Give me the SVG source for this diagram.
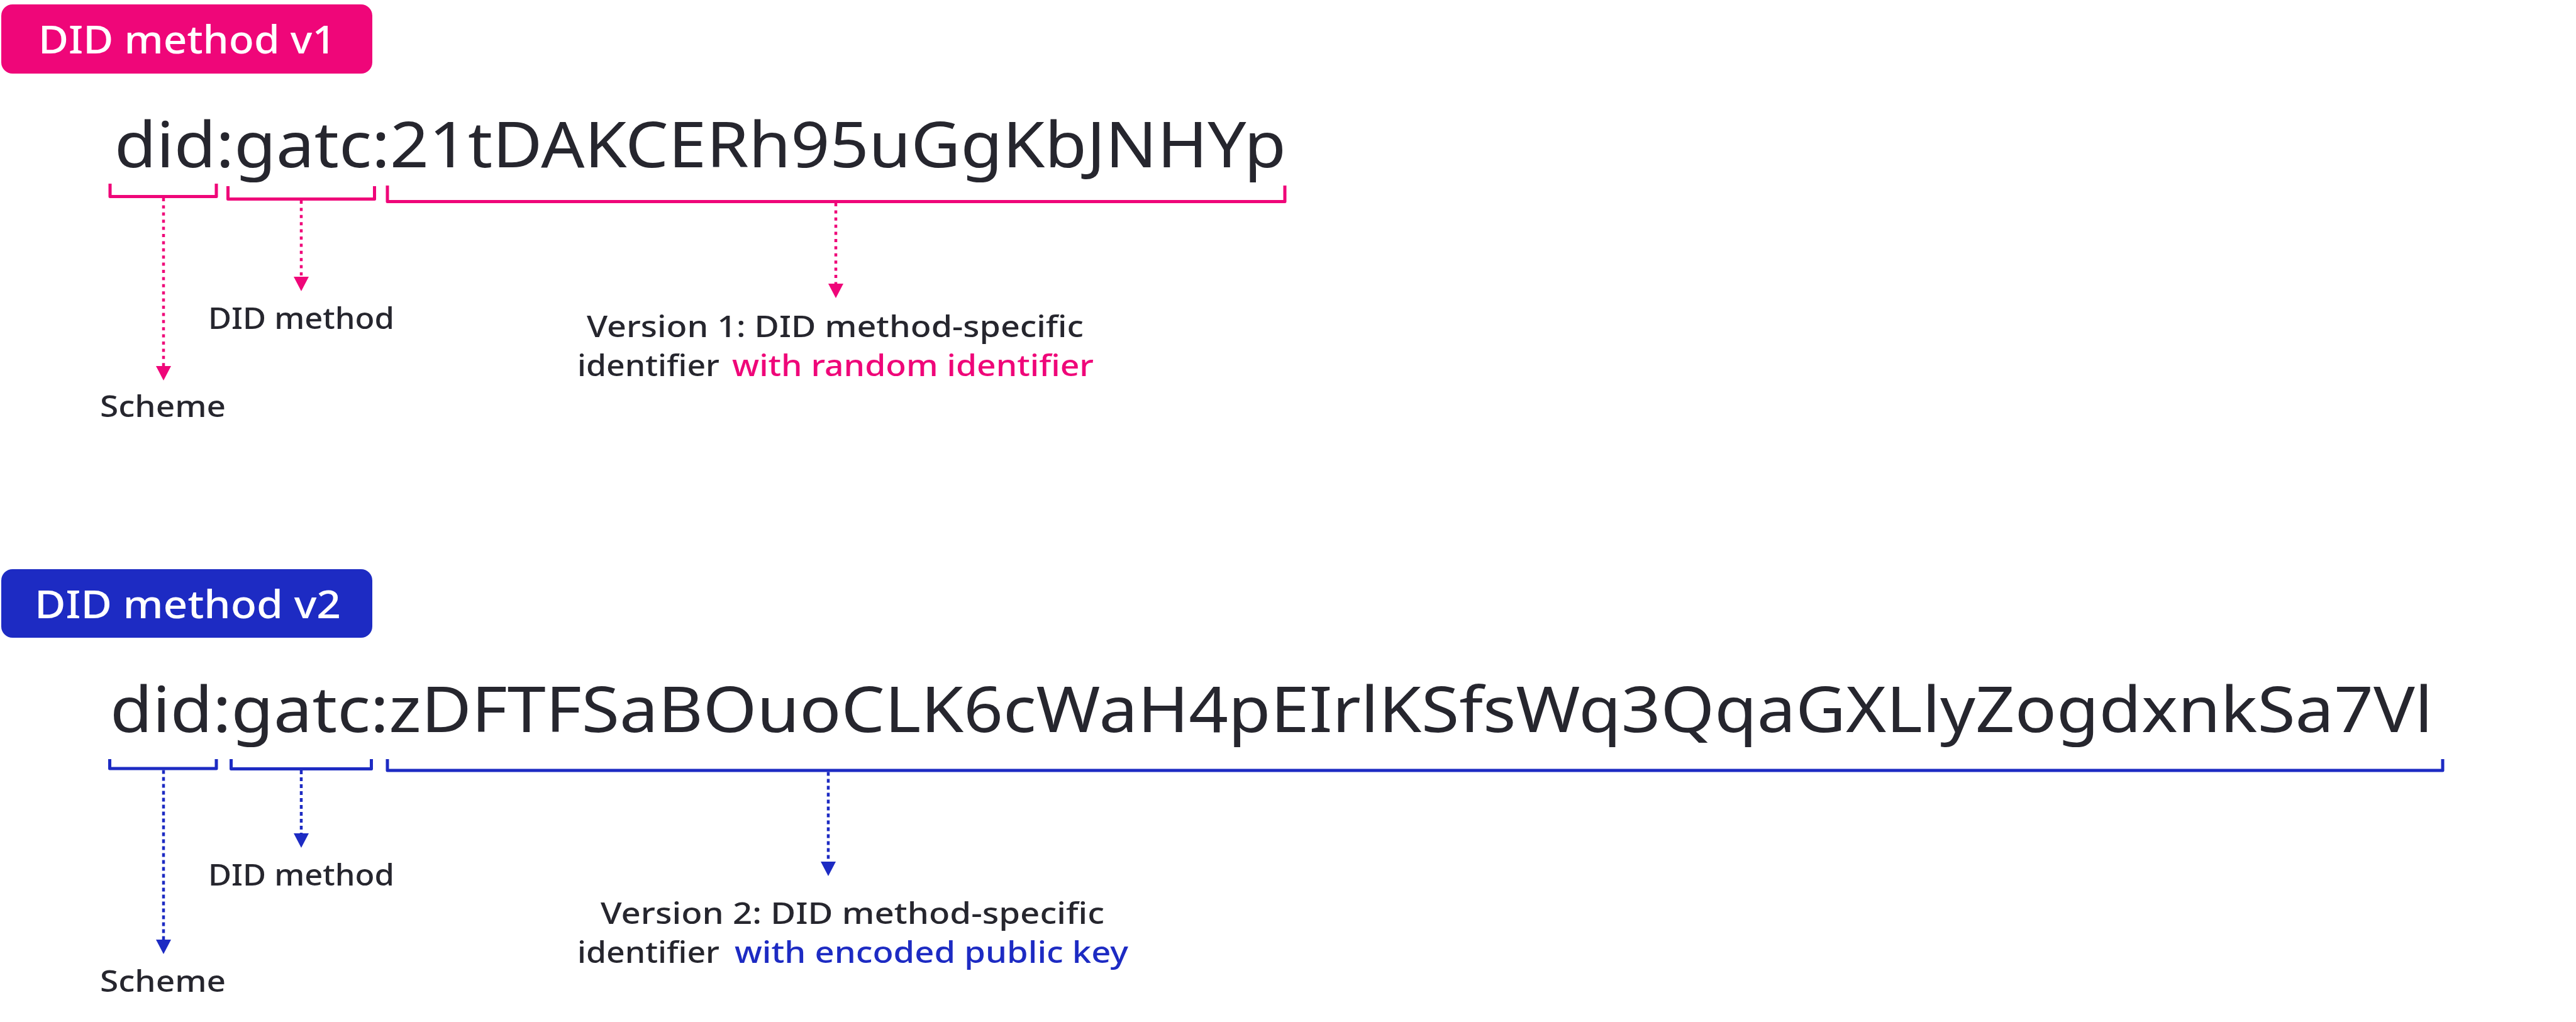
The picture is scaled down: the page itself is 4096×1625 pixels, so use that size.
<svg xmlns="http://www.w3.org/2000/svg" width="4096" height="1625" viewBox="0 0 4096 1625">
<style>
text{font-family:"Noto Sans","Open Sans","Liberation Sans",sans-serif;fill:#26262E}
.badge-t{fill:#FFFFFF;font-size:62px;font-weight:500}
.id{font-size:100px}
.lbl{font-size:48px;font-weight:500}
.pk{fill:#EF0679}
.bl{fill:#1D2BC3}
.br{fill:none;stroke-width:5;stroke-linejoin:round;stroke-linecap:butt}
.brp{stroke:#EF0679}
.brb{stroke:#1D2BC3}
.cp{fill:none;stroke:#EF0679;stroke-width:4.5;stroke-dasharray:5 6.4;marker-end:url(#ap)}
.cb{fill:none;stroke:#1D2BC3;stroke-width:4.5;stroke-dasharray:6 5;marker-end:url(#ab)}
</style>
<defs>
<marker id="ap" markerUnits="userSpaceOnUse" markerWidth="24" markerHeight="24" refX="0" refY="11" orient="auto" viewBox="0 0 22 22"><path d="M0,0 L21,11 L0,22 z" fill="#EF0679"/></marker>
<marker id="ab" markerUnits="userSpaceOnUse" markerWidth="24" markerHeight="24" refX="0" refY="11" orient="auto" viewBox="0 0 22 22"><path d="M0,0 L21,11 L0,22 z" fill="#1D2BC3"/></marker>
</defs>
<rect width="4096" height="1625" fill="#FFFFFF"/>

<g id="badge-v1">
<rect x="2" y="7" width="590" height="110" rx="18" fill="#EF0679"/>
<text class="badge-t" x="61" y="85" textLength="473" lengthAdjust="spacingAndGlyphs">DID method v1</text>
</g>
<g id="identifier-v1">
<text class="id" x="182" y="266" textLength="1863" lengthAdjust="spacingAndGlyphs">did:gatc:21tDAKCERh95uGgKbJNHYp</text>
</g>
<g id="brackets-v1">
<path class="br brp" d="M175 292 V312.5 H344 V292"/>
<path class="br brp" d="M362.5 296 V316.5 H595.5 V296"/>
<path class="br brp" d="M616 295 V320.5 H2043 V295"/>
</g>
<g id="label-scheme-v1"><text class="lbl" x="159" y="663" textLength="200" lengthAdjust="spacingAndGlyphs">Scheme</text></g>
<g id="label-method-v1"><text class="lbl" x="331" y="523" textLength="296" lengthAdjust="spacingAndGlyphs">DID method</text></g>
<g id="label-specific-v1">
<text class="lbl" x="933" y="536" textLength="790" lengthAdjust="spacingAndGlyphs">Version 1: DID method-specific</text>
<text class="lbl" x="918" y="598" textLength="226" lengthAdjust="spacingAndGlyphs">identifier</text>
<text class="lbl pk" x="1164" y="598" textLength="575" lengthAdjust="spacingAndGlyphs">with random identifier</text>
</g>

<g id="badge-v2">
<rect x="2" y="905" width="590" height="109" rx="18" fill="#1D2BC3"/>
<text class="badge-t" x="55" y="983" textLength="487" lengthAdjust="spacingAndGlyphs">DID method v2</text>
</g>
<g id="identifier-v2">
<text class="id" x="175" y="1164" textLength="3693" lengthAdjust="spacingAndGlyphs">did:gatc:zDFTFSaBOuoCLK6cWaH4pEIrlKSfsWq3QqaGXLlyZogdxnkSa7Vl</text>
</g>
<g id="brackets-v2">
<path class="br brb" d="M174.5 1207 V1222 H344 V1207"/>
<path class="br brb" d="M367.5 1207 V1222.5 H590.5 V1207"/>
<path class="br brb" d="M616 1207 V1225 H3884 V1207"/>
</g>
<g id="label-scheme-v2"><text class="lbl" x="159" y="1577" textLength="200" lengthAdjust="spacingAndGlyphs">Scheme</text></g>
<g id="label-method-v2"><text class="lbl" x="331" y="1408" textLength="296" lengthAdjust="spacingAndGlyphs">DID method</text></g>
<g id="label-specific-v2">
<text class="lbl" x="955" y="1469" textLength="801" lengthAdjust="spacingAndGlyphs">Version 2: DID method-specific</text>
<text class="lbl" x="918" y="1531" textLength="226" lengthAdjust="spacingAndGlyphs">identifier</text>
<text class="lbl bl" x="1168" y="1531" textLength="626" lengthAdjust="spacingAndGlyphs">with encoded public key</text>
</g>

<g id="connectors">
<path class="cp" d="M260 315 V582"/>
<path class="cp" d="M479 319 V440"/>
<path class="cp" d="M1329 323 V451"/>
<path class="cb" d="M260 1224.5 V1494"/>
<path class="cb" d="M479 1225 V1325"/>
<path class="cb" d="M1317 1227.5 V1370"/>
</g>
</svg>
